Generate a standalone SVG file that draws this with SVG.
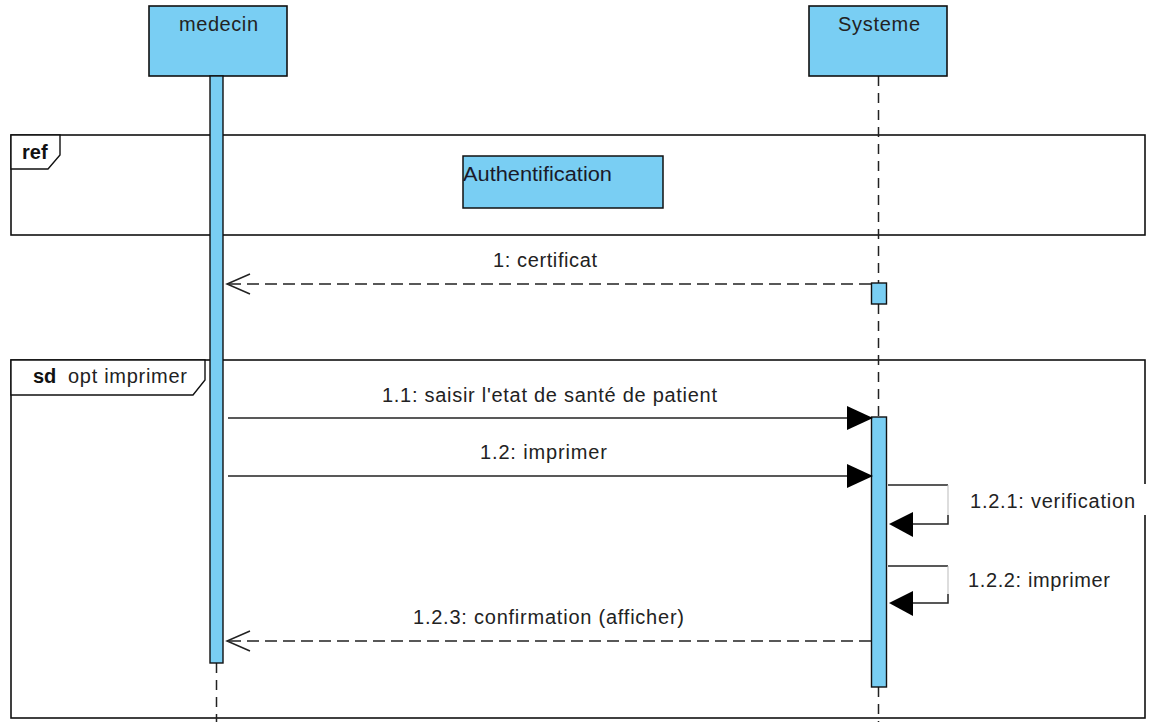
<svg xmlns="http://www.w3.org/2000/svg" width="1152" height="722" viewBox="0 0 1152 722">
  <style>
    .box { fill: #79CEF3; stroke: #111; stroke-width: 1.6; }
    .act { fill: #79CEF3; stroke: #111; stroke-width: 1.4; }
    .frame { fill: none; stroke: #111; stroke-width: 1.6; }
    .tab { fill: #fff; stroke: #111; stroke-width: 1.4; }
    .life { stroke: #222; stroke-width: 1.5; stroke-dasharray: 10 7; fill: none; }
    .sync { stroke: #222; stroke-width: 1.5; fill: none; }
    .ret { stroke: #222; stroke-width: 1.5; stroke-dasharray: 12 6; fill: none; }
    .open { stroke: #222; stroke-width: 1.5; fill: none; }
    .head { fill: #000; stroke: none; }
    text { font-family: "Liberation Sans", Arial, sans-serif; font-size: 20px; fill: #222; }
    .bold { font-weight: bold; fill: #111; }
  </style>

  <!-- combined fragments -->
  <g id="ref-frame">
    <rect class="frame" x="11" y="135" width="1134" height="100"/>
    <path class="tab" d="M11,135 H60 V155 L48,169 H11 Z"/>
    <text class="bold" x="22" y="159">ref</text>
  </g>
  <g id="ref-authentification">
    <rect x="463" y="156" width="200" height="52" fill="#79CEF3" stroke="#111" stroke-width="1.5"/>
    <text x="463" y="181" style="font-size:20px;fill:#1a1a2a" textLength="149" lengthAdjust="spacingAndGlyphs">Authentification</text>
  </g>
  <g id="sd-frame">
    <rect class="frame" x="11" y="360" width="1134" height="358"/>
    <path class="tab" d="M11,360 H205 V380 L193,395 H11 Z"/>
    <text class="bold" x="33" y="383">sd</text>
    <text x="68" y="383" textLength="119" lengthAdjust="spacing">opt imprimer</text>
  </g>

  <!-- lifelines -->
  <g id="lifelines">
    <line class="life" x1="878.5" y1="76" x2="878.5" y2="283"/>
    <line class="life" x1="878.5" y1="304" x2="878.5" y2="417"/>
    <line class="life" x1="878.5" y1="687" x2="878.5" y2="722"/>
    <line class="life" x1="216.5" y1="663" x2="216.5" y2="722"/>
  </g>

  <!-- participants -->
  <g id="medecin">
    <rect class="box" x="149" y="6" width="138" height="70"/>
    <text x="179" y="31" textLength="79" lengthAdjust="spacing">medecin</text>
    <rect class="act" x="210" y="76" width="13" height="587"/>
  </g>
  <g id="systeme">
    <rect class="box" x="809" y="6" width="138" height="70"/>
    <text x="838" y="31" textLength="82" lengthAdjust="spacing">Systeme</text>
    <rect class="act" x="871.5" y="283" width="15" height="21"/>
    <rect class="act" x="871.5" y="417" width="15" height="270"/>
  </g>

  <!-- messages -->
  <g id="connectors">
    <!-- 1: certificat -->
    <line class="ret" x1="871" y1="284" x2="228" y2="284"/>
    <path class="open" d="M250,274 L227,284 L250,294"/>
    <text x="493" y="267" textLength="104" lengthAdjust="spacing">1: certificat</text>

    <!-- 1.1 -->
    <line class="sync" x1="228" y1="418" x2="850" y2="418"/>
    <path class="head" d="M847,406 L873,418 L847,430 Z"/>
    <text x="382" y="402" textLength="335" lengthAdjust="spacing">1.1: saisir l'etat de santé de patient</text>

    <!-- 1.2 -->
    <line class="sync" x1="228" y1="476" x2="850" y2="476"/>
    <path class="head" d="M847,464 L873,476 L847,488 Z"/>
    <text x="480" y="459" textLength="127" lengthAdjust="spacing">1.2: imprimer</text>

    <!-- 1.2.1 self call -->
    <rect x="962" y="484" width="190" height="31" fill="#fff"/>
    <path class="sync" d="M888,485 H948"/>
    <path d="M948,485 V515" stroke="#bbb" stroke-width="1" fill="none"/>
    <path class="sync" d="M948,515 V524 H905"/>
    <path class="head" d="M913,512 L889,524 L913,537 Z"/>
    <text x="970" y="508" textLength="165" lengthAdjust="spacing">1.2.1: verification</text>

    <!-- 1.2.2 self call -->
    <path class="sync" d="M888,566 H948"/>
    <path d="M948,566 V594" stroke="#bbb" stroke-width="1" fill="none"/>
    <path class="sync" d="M948,594 V603 H905"/>
    <path class="head" d="M913,591 L889,603 L913,616 Z"/>
    <text x="968" y="587" textLength="142" lengthAdjust="spacing">1.2.2: imprimer</text>

    <!-- 1.2.3 -->
    <line class="ret" x1="871" y1="641" x2="228" y2="641"/>
    <path class="open" d="M250,631 L227,641 L250,651"/>
    <text x="413" y="624" textLength="271" lengthAdjust="spacing">1.2.3: confirmation (afficher)</text>
  </g>
</svg>
